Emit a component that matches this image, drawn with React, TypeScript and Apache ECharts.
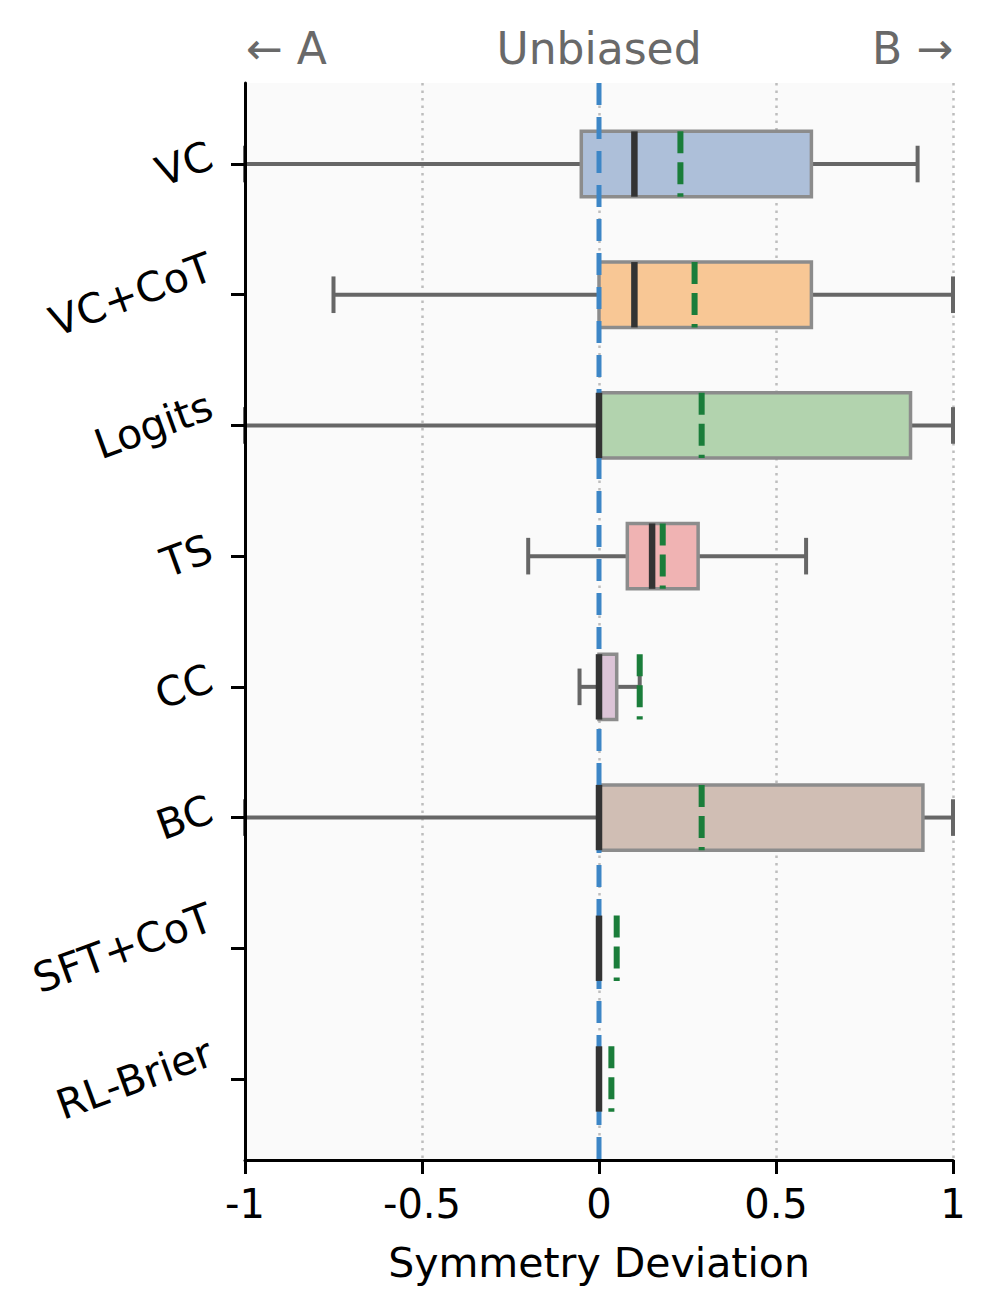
import React, { useEffect, useRef } from "react";
import * as echarts from "echarts";

const categories = ["VC", "VC+CoT", "Logits", "TS", "CC", "BC", "SFT+CoT", "RL-Brier"];
const whiskerLow = [-1.0, -0.75, -1.0, -0.2, -0.055, -1.0, 0, 0];
const q1Values = [-0.05, 0, 0, 0.08, 0, 0, 0, 0];
const medianValues = [0.1, 0.1, 0, 0.15, 0, 0, 0, 0];
const q3Values = [0.6, 0.6, 0.88, 0.28, 0.05, 0.915, 0, 0];
const whiskerHigh = [0.9, 1.0, 1.0, 0.585, 0.115, 1.0, 0, 0];
const meanValues = [0.23, 0.27, 0.29, 0.18, 0.115, 0.29, 0.05, 0.035];
const xTickValues = [-1, -0.5, 0, 0.5, 1];
const boxColors = ["#adbfd9", "#f8c795", "#b2d3ae", "#f0b3b3", "#dcc4d7", "#d0beb4", "#cccccc", "#cccccc"];

const FONT = '"DejaVu Sans", sans-serif';
const CAT_FS = 41;

function measure(text: string, fs: number): number {
  const c = document.createElement("canvas");
  const ctx = c.getContext("2d");
  if (!ctx) return text.length * fs * 0.6;
  ctx.font = `${fs}px "DejaVu Sans"`;
  return ctx.measureText(text).width;
}

export default function App() {
  const ref = useRef<HTMLDivElement>(null);
  useEffect(() => {
    if (!ref.current) return;
    const chart = echarts.init(ref.current, undefined, { renderer: "svg" });
    const rows = categories.map((_, i) => [
      i + 1,
      whiskerLow[i],
      q1Values[i],
      medianValues[i],
      q3Values[i],
      whiskerHigh[i],
      meanValues[i],
    ]);
    const option: any = {
      animation: false,
      grid: {
        left: 245,
        right: 43,
        top: 83,
        bottom: 153,
        show: true,
        backgroundColor: "#fafafa",
        borderWidth: 0,
      },
      xAxis: [
        {
          type: "value",
          min: -1,
          max: 1,
          interval: 0.5,
          z: 10,
          axisLine: { show: true, onZero: false, lineStyle: { color: "#000", width: 3 } },
          axisTick: { show: true, length: 14, lineStyle: { color: "#000", width: 3 } },
          axisLabel: {
            show: true,
            margin: 24,
            fontSize: 40,
            fontFamily: FONT,
            color: "#000",
            formatter: (v: number) => (xTickValues.includes(v) ? String(v) : ""),
          },
          splitLine: { show: false },
          name: "Symmetry Deviation",
          nameLocation: "middle",
          nameGap: 82,
          nameTextStyle: { fontSize: 41, fontFamily: FONT, color: "#000" },
        },
        {
          type: "value",
          min: -1,
          max: 1,
          interval: 0.5,
          z: 0,
          axisLine: { show: false, onZero: false },
          axisTick: { show: false },
          axisLabel: { show: false },
          splitLine: { show: true, lineStyle: { color: "#bdbdbd", width: 2.5, type: [2.5, 5] } },
        },
      ],
      yAxis: {
        type: "value",
        min: 0.38,
        max: 8.62,
        inverse: true,
        z: 10,
        axisLine: { show: true, onZero: false, lineStyle: { color: "#000", width: 3 } },
        axisTick: {
          show: true,
          length: 14,
          lineStyle: { color: "#000", width: 3 },
          customValues: categories.map((_, i) => i + 1),
        },
        axisLabel: { show: false },
        splitLine: { show: false },
      },
      graphic: [
        {
          type: "text",
          x: 246,
          y: 48,
          style: { text: "← A", font: `44px ${FONT}`, fill: "#696969", align: "left", verticalAlign: "middle" },
        },
        {
          type: "text",
          x: 599,
          y: 48,
          style: { text: "Unbiased", font: `44px ${FONT}`, fill: "#696969", align: "center", verticalAlign: "middle" },
        },
        {
          type: "text",
          x: 953,
          y: 48,
          style: { text: "B →", font: `44px ${FONT}`, fill: "#696969", align: "right", verticalAlign: "middle" },
        },
      ],
      series: [
        {
          type: "custom",
          xAxisIndex: 0,
          clip: false,
          z: 2,
          encode: { x: [1, 2, 3, 4, 5], y: 0 },
          data: rows,
          renderItem: (params: any, api: any) => {
            const pos = api.value(0);
            const band = api.size([0, 1])[1];
            const half = band * 0.25;
            const cap = band * 0.14;
            const [xl, yc] = api.coord([api.value(1), pos]);
            const xq1 = api.coord([api.value(2), pos])[0];
            const xq3 = api.coord([api.value(4), pos])[0];
            const xh = api.coord([api.value(5), pos])[0];
            const wStyle = { stroke: "#666666", lineWidth: 4 };
            return {
              type: "group",
              children: [
                { type: "line", shape: { x1: xl, y1: yc, x2: xq1, y2: yc }, style: wStyle },
                { type: "line", shape: { x1: xq3, y1: yc, x2: xh, y2: yc }, style: wStyle },
                { type: "line", shape: { x1: xl, y1: yc - cap, x2: xl, y2: yc + cap }, style: wStyle },
                { type: "line", shape: { x1: xh, y1: yc - cap, x2: xh, y2: yc + cap }, style: wStyle },
                {
                  type: "rect",
                  shape: { x: xq1, y: yc - half, width: xq3 - xq1, height: 2 * half },
                  style: { fill: boxColors[params.dataIndex], stroke: "#8c8c8c", lineWidth: 3.5 },
                },
              ],
            };
          },
        },
        {
          type: "line",
          xAxisIndex: 0,
          z: 3,
          symbol: "none",
          data: [
            [0, 0.38],
            [0, 8.62],
          ],
          lineStyle: { color: "#3d86c6", width: 5, type: [22, 12] },
        },
        {
          type: "custom",
          xAxisIndex: 0,
          clip: false,
          z: 4,
          encode: { x: [3, 6], y: 0 },
          data: rows,
          renderItem: (params: any, api: any) => {
            const pos = api.value(0);
            const band = api.size([0, 1])[1];
            const half = band * 0.25;
            const [xm, yc] = api.coord([api.value(3), pos]);
            const xmean = api.coord([api.value(6), pos])[0];
            return {
              type: "group",
              children: [
                {
                  type: "line",
                  shape: { x1: xm, y1: yc - half, x2: xm, y2: yc + half },
                  style: { stroke: "#333333", lineWidth: 6.5 },
                },
                {
                  type: "line",
                  shape: { x1: xmean, y1: yc - half, x2: xmean, y2: yc + half },
                  style: { stroke: "#1a7d3a", lineWidth: 6, lineDash: [22, 9] },
                },
              ],
            };
          },
        },
        {
          type: "custom",
          xAxisIndex: 0,
          clip: false,
          z: 5,
          encode: { x: 1, y: 0 },
          data: categories.map((_, i) => [i + 1, -1]),
          renderItem: (params: any, api: any) => {
            const pos = api.value(0);
            const [ax, ay] = api.coord([-1, pos]);
            const label = categories[params.dataIndex];
            const th = (20 * Math.PI) / 180;
            const w = measure(label, CAT_FS);
            const h = CAT_FS * 1.17;
            const xr = ax - 26 - (h / 2) * Math.sin(th);
            const yr = ay - (w * Math.sin(th)) / 2;
            return {
              type: "text",
              x: xr,
              y: yr,
              rotation: th,
              style: {
                text: label,
                x: 0,
                y: 0,
                align: "right",
                verticalAlign: "middle",
                font: `${CAT_FS}px ${FONT}`,
                fill: "#000",
              },
            };
          },
        },
      ],
    };
    chart.setOption(option);
    return () => chart.dispose();
  }, []);
  return (
    <div
      ref={ref}
      style={{ position: "absolute", left: 0, top: 0, width: 996, height: 1313, background: "#fff" }}
    />
  );
}
